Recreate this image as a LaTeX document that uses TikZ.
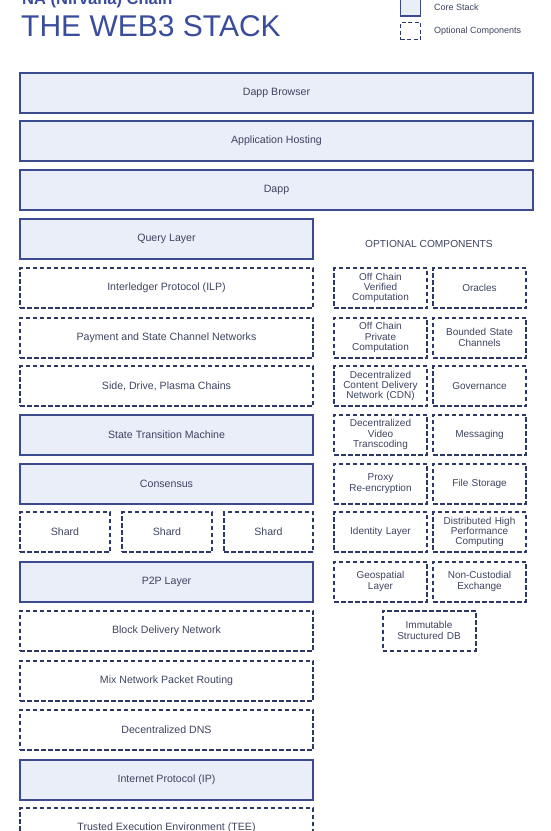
\documentclass[tikz,border=0pt]{standalone}
\usepackage{fontspec}
\setmainfont{Liberation Sans}
\definecolor{corestroke}{HTML}{3C4A90}
\definecolor{optstroke}{HTML}{2E3866}
\definecolor{corefill}{HTML}{E9EEF9}
\definecolor{txt}{HTML}{3E4360}
\definecolor{titleblue}{HTML}{3A4C9C}
\tikzset{
  corebox/.style={draw=corestroke, fill=corefill, line width=2pt, minimum height=40pt, inner sep=1pt, text=txt, font=\fontsize{10.6}{11}\selectfont, align=center},
  optbox/.style={draw=optstroke, line width=2pt, dash pattern=on 4.5pt off 2.5pt, minimum height=40pt, inner sep=1pt, text=txt, font=\fontsize{10.6}{11}\selectfont, align=center},
  rbox/.style={optbox, minimum width=93pt, text width=90pt, font=\fontsize{10}{10.2}\selectfont},
  full/.style={minimum width=513pt},
  leftw/.style={minimum width=293pt},
}
\begin{document}
\begin{tikzpicture}[x=1pt, y=-1pt]
\useasboundingbox (0,0) rectangle (550,831);
% titles
\node[anchor=base west, inner sep=0, text=titleblue, font=\fontsize{16.5}{18}\selectfont\bfseries] (sub) at (22,4) {NA (Nirvana) Chain};
\node[anchor=base west, inner sep=0, text=titleblue, font=\fontsize{30}{31}\selectfont] (title) at (21,36) {THE WEB3 STACK};
% legend
\node[draw=corestroke, fill=corefill, line width=1.6pt, minimum width=20pt, minimum height=17pt, inner sep=0] (lcore) at (410.5,7.5) {};
\node[draw=optstroke, line width=1.8pt, dash pattern=on 4pt off 2.5pt, minimum width=20pt, minimum height=17pt, inner sep=0] (lopt) at (410.5,31) {};
\node[anchor=west, inner sep=0, text=txt, font=\fontsize{9}{10}\selectfont] (lcoret) at (434,7.5) {Core Stack};
\node[anchor=west, inner sep=0, text=txt, font=\fontsize{9}{10}\selectfont] (loptt) at (434,31.5) {Optional Components};
% full width
\node[corebox, full] (browser) at (276.5,93) {Dapp Browser};
\node[corebox, full] (hosting) at (276.5,141) {Application Hosting};
\node[corebox, full] (dapp) at (276.5,190) {Dapp};
% left column
\node[corebox, leftw] (query) at (166.5,239) {Query Layer};
\node[optbox, leftw] (ilp) at (166.5,288) {Interledger Protocol (ILP)};
\node[optbox, leftw] (payment) at (166.5,337.5) {Payment and State Channel Networks};
\node[optbox, leftw] (side) at (166.5,386) {Side, Drive, Plasma Chains};
\node[corebox, leftw] (stm) at (166.5,434.5) {State Transition Machine};
\node[corebox, leftw] (consensus) at (166.5,483.5) {Consensus};
\node[optbox, minimum width=90pt] (shard1) at (65,532) {Shard};
\node[optbox, minimum width=90pt] (shard2) at (167,532) {Shard};
\node[optbox, minimum width=89pt] (shard3) at (268.5,532) {Shard};
\node[corebox, leftw] (p2p) at (166.5,581.5) {P2P Layer};
\node[optbox, leftw] (bdn) at (166.5,630.5) {Block Delivery Network};
\node[optbox, leftw] (mix) at (166.5,680.5) {Mix Network Packet Routing};
\node[optbox, leftw] (dns) at (166.5,729.5) {Decentralized DNS};
\node[corebox, leftw] (ip) at (166.5,779.5) {Internet Protocol (IP)};
\node[optbox, leftw] (tee) at (166.5,828) {Trusted Execution Environment (TEE)};
% optional components
\node[text=txt, font=\fontsize{10.2}{11}\selectfont, inner sep=0] (opthead) at (429,244) {OPTIONAL COMPONENTS};
\node[rbox] (ocvc) at (380.5,288) {Off Chain\\Verified\\Computation};
\node[rbox] (oracles) at (479.5,288) {Oracles};
\node[rbox] (ocpc) at (380.5,337.5) {Off Chain\\Private\\Computation};
\node[rbox] (bsc) at (479.5,337.5) {Bounded State\\Channels};
\node[rbox] (cdn) at (380.5,386) {Decentralized\\Content Delivery\\Network (CDN)};
\node[rbox] (gov) at (479.5,386) {Governance};
\node[rbox] (video) at (380.5,434.5) {Decentralized\\Video\\Transcoding};
\node[rbox] (msg) at (479.5,434.5) {Messaging};
\node[rbox] (proxy) at (380.5,483.5) {Proxy\\Re-encryption};
\node[rbox] (file) at (479.5,483.5) {File Storage};
\node[rbox] (ident) at (380.5,532) {Identity Layer};
\node[rbox] (dhpc) at (479.5,532) {Distributed High\\Performance\\Computing};
\node[rbox] (geo) at (380.5,581.5) {Geospatial\\Layer};
\node[rbox] (nce) at (479.5,581.5) {Non-Custodial\\Exchange};
\node[rbox] (imdb) at (429,630.5) {Immutable\\Structured DB};
\end{tikzpicture}
\end{document}
